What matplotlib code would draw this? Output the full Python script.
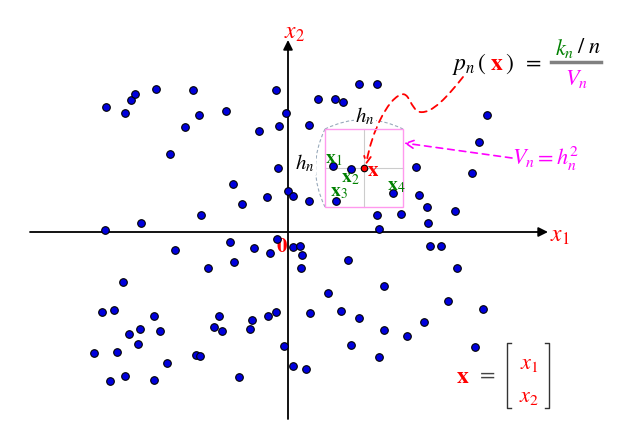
import numpy as np
import matplotlib.pyplot as plt
from matplotlib.path import Path
from matplotlib.patches import FancyArrowPatch, PathPatch, Rectangle

plt.rcParams['mathtext.fontset'] = 'stix'
plt.rcParams['font.family'] = ['STIXGeneral', 'DejaVu Serif']

# sample points (canvas coords, y down)
px = [106, 125, 131, 135, 156, 193, 199, 226, 185, 170, 276, 286, 279, 259, 278, 233, 242, 267, 288, 293, 309, 309, 201, 141, 105,
      359, 377, 318, 335, 343, 487, 479, 472, 416, 333, 351, 336, 393, 419, 427, 455, 377, 401, 379, 428,
      230, 175, 254, 270, 277, 293, 300, 302, 301, 234, 208, 123, 102, 114, 154, 140, 129, 160, 138, 94, 117, 167, 196, 200,
      125, 110, 154, 239, 219, 214, 222, 252, 250, 268, 276, 284, 293, 306, 310,
      430, 441, 348, 457, 384, 328, 341, 359, 384, 407, 424, 448, 483, 351, 379, 475]
py = [107, 113, 100, 94, 89, 90, 115, 111, 127, 154, 90, 113, 126, 131, 168, 184, 204, 197, 191, 196, 125, 201, 215, 223, 230,
      84, 84, 99, 99, 102, 115, 142, 173, 167, 166, 169, 201, 193, 195, 207, 211, 215, 214, 229, 223,
      242, 250, 248, 253, 239, 247, 246, 255, 268, 262, 268, 282, 312, 310, 316, 329, 334, 331, 344, 353, 352, 363, 355, 356,
      376, 381, 380, 377, 316, 327, 331, 320, 329, 316, 312, 346, 366, 369, 313,
      246, 246, 260, 268, 286, 293, 311, 318, 330, 336, 322, 301, 309, 345, 357, 347]

origin = (288, 232)
query = (364, 168)
box = (325, 129, 403, 207)  # x0, y0, x1, y1

fig = plt.figure(figsize=(6.21, 4.33), dpi=100)
ax = fig.add_axes([0, 0, 1, 1])
ax.set_xlim(0, 621)
ax.set_ylim(433, 0)
ax.axis('off')

# axes arrows
ax.annotate('', xy=(548, origin[1]), xytext=(30, origin[1]),
            arrowprops=dict(arrowstyle='-|>', lw=1.3, color='k', mutation_scale=14, shrinkA=0, shrinkB=0))
ax.annotate('', xy=(origin[0], 40), xytext=(origin[0], 419),
            arrowprops=dict(arrowstyle='-|>', lw=1.3, color='k', mutation_scale=14, shrinkA=0, shrinkB=0))
ax.text(560, 236, r'$x_1$', color='red', fontsize=17, ha='center', va='center')
ax.text(294, 33, r'$x_2$', color='red', fontsize=17, ha='center', va='center')
ax.text(282, 247, r'$\mathbf{0}$', color='red', fontsize=15, ha='center', va='center')

# window
x0, y0, x1, y1 = box
ax.add_patch(Rectangle((x0, y0), x1 - x0, y1 - y0, fill=False, ec='#ff99ee', lw=1.0, zorder=2))
ax.plot([query[0], query[0]], [y0, y1], color='#cccccc', lw=0.8, zorder=1)
ax.plot([x0, x1], [query[1], query[1]], color='#cccccc', lw=0.8, zorder=1)

# dashed arcs for h_n
top = Path([(x0, y0), ((x0 + x1) / 2, 110), (x1, y0)], [Path.MOVETO, Path.CURVE3, Path.CURVE3])
left = Path([(x0, y0), (306, (y0 + y1) / 2), (x0, y1)], [Path.MOVETO, Path.CURVE3, Path.CURVE3])
for p in (top, left):
    ax.add_patch(PathPatch(p, fill=False, ec='#99aabb', lw=0.8, ls=(0, (3, 2))))
ax.text(365, 116, r'$h_n$', fontsize=15, ha='center', va='center',
        bbox=dict(fc='white', ec='none', pad=1))
ax.text(305, 163, r'$h_n$', fontsize=15, ha='center', va='center',
        bbox=dict(fc='white', ec='none', pad=1))

# points
ax.scatter(px, py, s=30, c='#0000dd', edgecolors='black', linewidths=0.8, zorder=3)
ax.scatter([query[0]], [query[1]], s=22, c='red', edgecolors='black', linewidths=0.8, zorder=4)

ax.text(334, 159, r'$\mathbf{x}_1$', color='green', fontsize=14, ha='center', va='center')
ax.text(350, 178, r'$\mathbf{x}_2$', color='green', fontsize=14, ha='center', va='center')
ax.text(339, 192, r'$\mathbf{x}_3$', color='green', fontsize=14, ha='center', va='center')
ax.text(396, 186, r'$\mathbf{x}_4$', color='green', fontsize=14, ha='center', va='center')
ax.text(373, 171, r'$\mathbf{x}$', color='red', fontsize=15, ha='center', va='center')

# red dashed squiggle to query point
squig = Path([(463, 77), (448, 96), (432, 114), (420, 112),
              (410, 110), (410, 90), (400, 95),
              (388, 100), (372, 130), (366, 165)],
             [Path.MOVETO, Path.CURVE4, Path.CURVE4, Path.CURVE4,
              Path.CURVE4, Path.CURVE4, Path.CURVE4,
              Path.CURVE4, Path.CURVE4, Path.CURVE4])
ax.add_patch(FancyArrowPatch(path=squig, arrowstyle='->', mutation_scale=12,
                             color='red', lw=1.3, ls=(0, (4, 3))))

# magenta arrow to box
ax.annotate('', xy=(404, 143), xytext=(512, 158),
            arrowprops=dict(arrowstyle='->', color='magenta', lw=1.2, ls=(0, (4, 3)),
                            mutation_scale=14, shrinkA=0, shrinkB=0))
ax.text(546, 159, r'$V_n = h_n^2$', color='magenta', fontsize=16, ha='center', va='center')

# density formula
ax.text(470, 64, r'$p_n\,($', fontsize=17, ha='center', va='center')
ax.text(497, 64, r'$\mathbf{x}$', color='red', fontsize=17, ha='center', va='center')
ax.text(509, 64, r'$)$', fontsize=17, ha='center', va='center')
ax.text(532, 63, r'$=$', fontsize=16, ha='center', va='center')
ax.plot([551, 601], [62, 62], color='gray', lw=2.5)
ax.text(565, 48, r'$k_n$', color='green', fontsize=16, ha='center', va='center')
ax.text(589, 48, r'$/\ n$', fontsize=16, ha='center', va='center')
ax.text(576, 79, r'$V_n$', color='magenta', fontsize=16, ha='center', va='center')

# x = [x1; x2]
ax.text(463, 377, r'$\mathbf{x}$', color='red', fontsize=17, ha='center', va='center')
ax.text(486, 375, r'$=$', fontsize=16, color='#444444', ha='center', va='center')
ax.plot([511, 507, 507, 511], [343, 343, 408, 408], color='#333333', lw=1.0)
ax.plot([545, 549, 549, 545], [343, 343, 408, 408], color='#333333', lw=1.0)
ax.text(529, 364, r'$x_1$', color='red', fontsize=16, ha='center', va='center')
ax.text(529, 397, r'$x_2$', color='red', fontsize=16, ha='center', va='center')

fig.savefig('out.png', dpi=100)
